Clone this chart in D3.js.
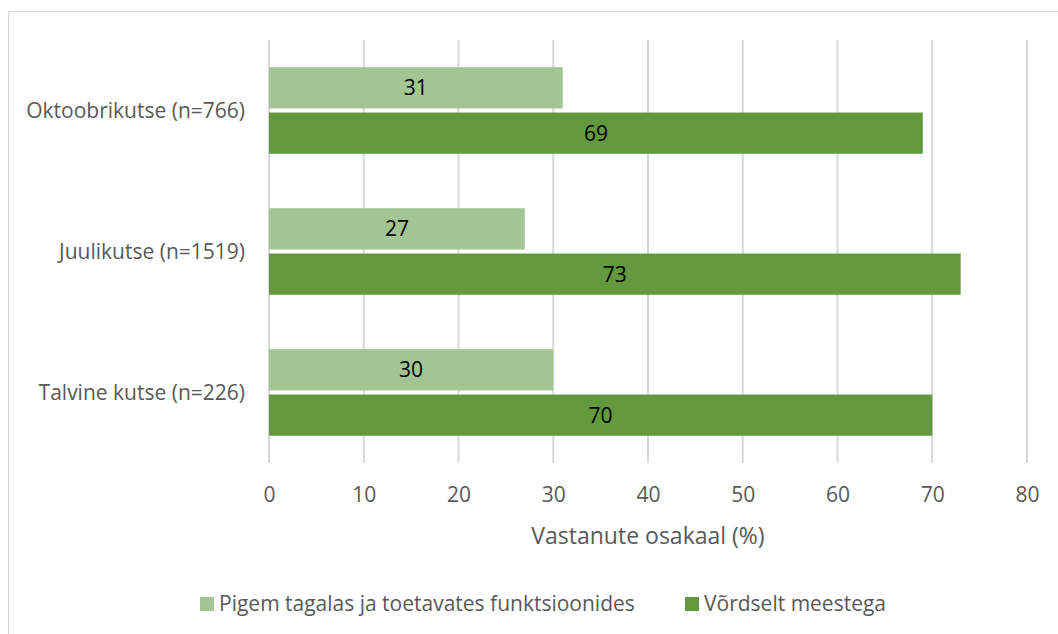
<!DOCTYPE html>
<html>
<head>
<meta charset="utf-8">
<script src="https://cdn.jsdelivr.net/npm/d3@7"></script>
<style>
  body { margin: 0; background: #fff; }
  svg text { font-family: "Open Sans", "Noto Sans", sans-serif; }
</style>
</head>
<body>
<div id="chart"></div>
<script>
// categories top to bottom
var categories = ["Oktoobrikutse (n=766)", "Juulikutse (n=1519)", "Talvine kutse (n=226)"];
var seriesNames = ["Pigem tagalas ja toetavates funktsioonides", "Võrdselt meestega"];
var tagalas = [31, 27, 30];
var vordselt = [69, 73, 70];
var xTicks = [0, 10, 20, 30, 40, 50, 60, 70, 80];
var colours = ["#a3c594", "#62993e"];

var width = 1058, height = 634;
var svg = d3.select("#chart").append("svg")
    .attr("width", width)
    .attr("height", height);

// chart frame
svg.append("rect")
    .attr("x", 8.5).attr("y", 11.5)
    .attr("width", 1060).attr("height", 640)
    .attr("fill", "none")
    .attr("stroke", "#d9d9d9");

var x = d3.scaleLinear().domain([0, 80]).range([269, 1027]);
var y = d3.scaleBand().domain(categories).range([40, 463]);
var inner = d3.scaleBand().domain([0, 1]).range([0, y.bandwidth()]).paddingInner(0.09).paddingOuter(0.6);

// gridlines
svg.append("g").selectAll("line")
    .data(xTicks)
    .enter().append("line")
    .attr("x1", function(d){ return x(d); })
    .attr("x2", function(d){ return x(d); })
    .attr("y1", 40)
    .attr("y2", 463)
    .style("stroke", "#d9d9d9")
    .style("stroke-width", 2);

var rows = categories.map(function(c, i){
  return { cat: c, vals: [tagalas[i], vordselt[i]] };
});

var groups = svg.append("g").selectAll("g")
    .data(rows)
    .enter().append("g")
    .attr("transform", function(d){ return "translate(0," + y(d.cat) + ")"; });

groups.selectAll("rect")
    .data(function(d){ return d.vals.map(function(v, j){ return {v: v, j: j}; }); })
    .enter().append("rect")
    .attr("x", x(0))
    .attr("y", function(d){ return inner(d.j); })
    .attr("width", function(d){ return x(d.v) - x(0); })
    .attr("height", inner.bandwidth())
    .attr("fill", function(d){ return colours[d.j]; });

groups.selectAll("text.val")
    .data(function(d){ return d.vals.map(function(v, j){ return {v: v, j: j}; }); })
    .enter().append("text")
    .attr("class", "val")
    .attr("x", function(d){ return (x(d.v) + x(0)) / 2; })
    .attr("y", function(d){ return inner(d.j) + inner.bandwidth() / 2; })
    .attr("dy", "0.35em")
    .attr("text-anchor", "middle")
    .style("font-size", "21px")
    .style("fill", "#000")
    .text(function(d){ return d.v; });

// category labels
svg.append("g").selectAll("text")
    .data(categories)
    .enter().append("text")
    .attr("x", 245)
    .attr("y", function(d){ return y(d) + y.bandwidth() / 2; })
    .attr("dy", "0.35em")
    .attr("text-anchor", "end")
    .style("font-size", "21px")
    .style("fill", "#595959")
    .text(function(d){ return d; });

// x axis
var xAxis = d3.axisBottom(x).tickValues(xTicks).tickSize(0).tickPadding(24);
var ax = svg.append("g").attr("transform", "translate(0,463)").call(xAxis);
ax.select(".domain").remove();
ax.selectAll("text")
    .style("font-size", "21px")
    .style("fill", "#595959")
    .style("font-family", "'Open Sans', sans-serif");

svg.append("text")
    .attr("x", x(40))
    .attr("y", 536)
    .attr("dy", "0.35em")
    .attr("text-anchor", "middle")
    .style("font-size", "23px")
    .style("fill", "#595959")
    .text("Vastanute osakaal (%)");

// legend
var legendX = [200, 685];
var legend = svg.append("g").selectAll("g")
    .data(seriesNames)
    .enter().append("g")
    .attr("transform", function(d, i){ return "translate(" + legendX[i] + ",604)"; });
legend.append("rect")
    .attr("x", 0).attr("y", -7)
    .attr("width", 14).attr("height", 14)
    .attr("fill", function(d, i){ return colours[i]; });
legend.append("text")
    .attr("x", 19)
    .attr("dy", "0.35em")
    .style("font-size", "21px")
    .style("fill", "#595959")
    .text(function(d){ return d; });
</script>
</body>
</html>
